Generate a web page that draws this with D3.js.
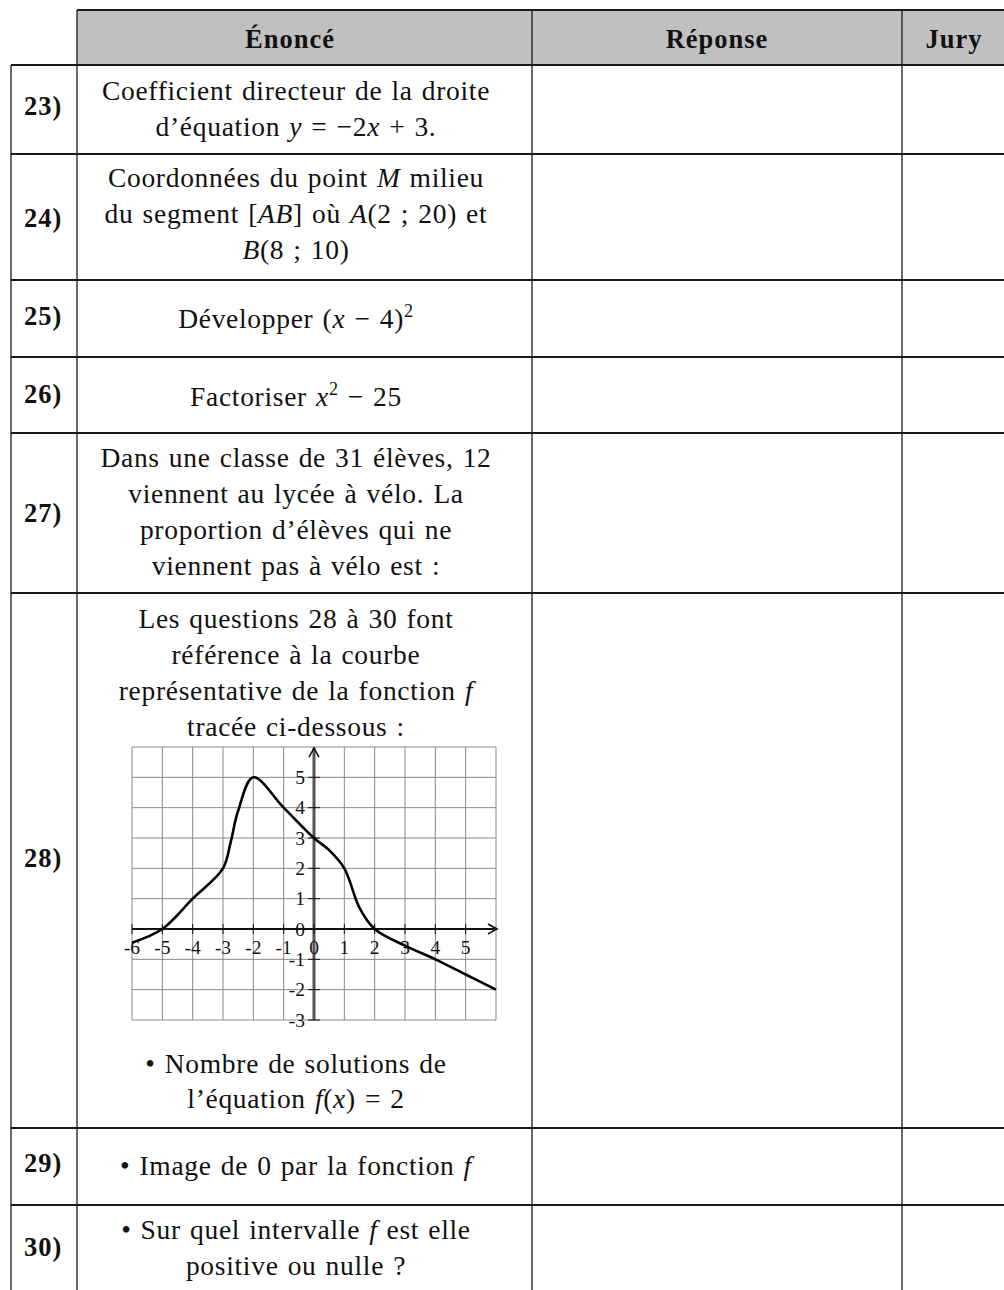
<!DOCTYPE html>
<html lang="fr">
<head>
<meta charset="UTF-8">
<title>Questions 23 à 30</title>
<script src="https://d3js.org/d3.v7.min.js"></script>
<style>
  body { margin: 0; background: #fff; }
  svg { display: block; }
  text { font-family: "Liberation Serif", "DejaVu Serif", serif; fill: #111; }
  .body-text { letter-spacing: 0.7px; word-spacing: 1.5px; }
  .bold { font-weight: bold; letter-spacing: 1px; }
</style>
</head>
<body>
<svg id="sheet"></svg>
<script>
// ---- data ----
const headers = ["Énoncé", "Réponse", "Jury"];
const questionNums = ["23)", "24)", "25)", "26)", "27)", "28)", "29)", "30)"];
// _x_ = italic, ^2 = superscript
const questionText = [
  ["Coefficient directeur de la droite", "d’équation _y_ = −2_x_ + 3."],
  ["Coordonnées du point _M_ milieu", "du segment [_AB_] où _A_(2 ; 20) et", "_B_(8 ; 10)"],
  ["Développer (_x_ − 4)^2"],
  ["Factoriser _x_^2 − 25"],
  ["Dans une classe de 31 élèves, 12", "viennent au lycée à vélo. La", "proportion d’élèves qui ne", "viennent pas à vélo est :"],
  ["Les questions 28 à 30 font", "référence à la courbe", "représentative de la fonction _f_", "tracée ci-dessous :"],
  ["• Image de 0 par la fonction _f_"],
  ["• Sur quel intervalle _f_ est elle", "positive ou nulle ?"]
];
const afterGraphText = ["• Nombre de solutions de", "l’équation _f_(_x_) = 2"];

const curveX = [-6, -5, -4, -3, -2.75, -2.5, -2, -1, 0, 0.5, 1, 1.5, 2, 3, 4, 5, 6];
const curveY = [-0.45, 0, 1, 2, 2.85, 3.9, 5, 4, 3, 2.6, 2, 0.7, 0, -0.55, -1, -1.5, -2];
const xTickLabels = [-6, -5, -4, -3, -2, -1, 0, 1, 2, 3, 4, 5];
const yTickLabels = [-3, -2, -1, 0, 1, 2, 3, 4, 5];

// ---- layout ----
const W = 1004, H = 1290;
const colX = [11, 77, 532, 902, 1006];
const headTop = 10, headBottom = 65;
const rowEdges = [65, 154, 280, 357, 433, 593, 1128, 1205, 1300];
const firstBase = [100, 187, 328, 406, 467, 628, 1175, 1239];
const numBase = [115, 227, 325, 403, 522, 867, 1172, 1256];
const lineGap = 36;
const textCx = 296;
const fs = 27.5;

const svg = d3.select("#sheet").attr("width", W).attr("height", H);

function rich(sel, str) {
  const parts = str.split(/(_[^_]+_|\^\d+)/).filter(s => s.length);
  let raised = false;
  parts.forEach(p => {
    if (p.startsWith("_")) {
      sel.append("tspan").attr("font-style", "italic").attr("dy", raised ? 11 : null).text(p.slice(1, -1));
      raised = false;
    } else if (p.startsWith("^")) {
      sel.append("tspan").attr("font-size", fs * 0.66).attr("dy", -11).text(p.slice(1));
      raised = true;
    } else {
      sel.append("tspan").attr("dy", raised ? 11 : null).text(p);
      raised = false;
    }
  });
}

// header background
svg.append("rect")
  .attr("x", colX[1]).attr("y", headTop)
  .attr("width", W - colX[1]).attr("height", headBottom - headTop)
  .attr("fill", "#c0c0c0");

// header labels
const headCx = [290, 717, 954];
headers.forEach((h, i) => {
  svg.append("text").attr("class", "bold")
    .attr("x", headCx[i]).attr("y", 48)
    .attr("text-anchor", "middle").attr("font-size", 26.5)
    .text(h);
});

// table lines
const lines = svg.append("g").attr("stroke", "#1a1a1a");
lines.append("line").attr("x1", colX[1]).attr("x2", W).attr("y1", headTop).attr("y2", headTop).attr("stroke-width", 2);
rowEdges.slice(0, -1).forEach(y => {
  lines.append("line").attr("x1", colX[0]).attr("x2", W).attr("y1", y).attr("y2", y).attr("stroke-width", 1.8);
});
lines.append("line").attr("x1", colX[0]).attr("x2", colX[0]).attr("y1", headBottom).attr("y2", H).attr("stroke-width", 1.3);
colX.slice(1, 4).forEach(x => {
  lines.append("line").attr("x1", x).attr("x2", x).attr("y1", headTop).attr("y2", H).attr("stroke-width", 1.3);
});

// question numbers and statements
questionNums.forEach((n, i) => {
  svg.append("text").attr("class", "bold")
    .attr("x", 24).attr("y", numBase[i]).attr("font-size", 26.5)
    .text(n);
  questionText[i].forEach((ln, j) => {
    const t = svg.append("text").attr("class", "body-text")
      .attr("x", textCx).attr("y", firstBase[i] + j * lineGap)
      .attr("text-anchor", "middle").attr("font-size", fs);
    rich(t, ln);
  });
});
afterGraphText.forEach((ln, j) => {
  const t = svg.append("text").attr("class", "body-text")
    .attr("x", textCx).attr("y", 1073 + j * 35)
    .attr("text-anchor", "middle").attr("font-size", fs);
  rich(t, ln);
});

// ---- graph of f ----
const x = d3.scaleLinear().domain([-6, 6]).range([132, 496]);
const y = d3.scaleLinear().domain([-3, 6]).range([1020, 747]);
const graph = svg.append("g");

const grid = graph.append("g").attr("stroke", "#8a8a8a").attr("stroke-width", 1);
d3.range(-6, 7).forEach(v => {
  grid.append("line").attr("x1", x(v)).attr("x2", x(v)).attr("y1", y(-3)).attr("y2", y(6));
});
d3.range(-3, 7).forEach(v => {
  grid.append("line").attr("x1", x(-6)).attr("x2", x(6)).attr("y1", y(v)).attr("y2", y(v));
});

function arrowHead(g, tx, ty, rot) {
  g.append("path")
    .attr("d", "M-9,-5 Q-3,-1.5 0,0 Q-3,1.5 -9,5")
    .attr("transform", `translate(${tx},${ty}) rotate(${rot})`)
    .attr("fill", "none").attr("stroke", "#111").attr("stroke-width", 1.6);
}

// y axis
graph.append("line")
  .attr("x1", x(0)).attr("x2", x(0)).attr("y1", y(-3)).attr("y2", y(6) + 1)
  .attr("stroke", "#555").attr("stroke-width", 3);
arrowHead(graph, x(0), y(6) + 1, -90);

// x axis
graph.append("line")
  .attr("x1", x(-6)).attr("x2", x(6) + 1).attr("y1", y(0)).attr("y2", y(0))
  .attr("stroke", "#111").attr("stroke-width", 2);
arrowHead(graph, x(6) + 1, y(0), 0);

// ticks
const ticks = graph.append("g").attr("stroke", "#111").attr("stroke-width", 1);
yTickLabels.forEach(v => {
  ticks.append("line").attr("x1", x(0) - 6).attr("x2", x(0) + 6).attr("y1", y(v)).attr("y2", y(v));
});
xTickLabels.forEach(v => {
  ticks.append("line").attr("x1", x(v)).attr("x2", x(v)).attr("y1", y(0) - 5).attr("y2", y(0) + 5);
});

// tick labels
yTickLabels.forEach(v => {
  graph.append("text")
    .attr("x", x(0) - 9).attr("y", y(v) + 6.5)
    .attr("text-anchor", "end").attr("font-size", 19.5)
    .text(v);
});
xTickLabels.forEach(v => {
  graph.append("text")
    .attr("x", x(v)).attr("y", y(0) + 25)
    .attr("text-anchor", "middle").attr("font-size", 19.5)
    .text(v);
});

// curve
const pts = curveX.map((v, i) => [v, curveY[i]]);
graph.append("path")
  .datum(pts)
  .attr("d", d3.line().x(d => x(d[0])).y(d => y(d[1])).curve(d3.curveCatmullRom.alpha(0.5)))
  .attr("fill", "none").attr("stroke", "#000").attr("stroke-width", 2.6);
</script>
</body>
</html>
